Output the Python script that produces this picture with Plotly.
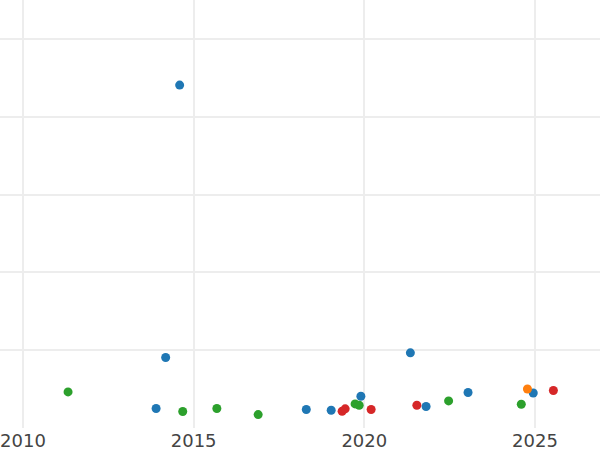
import plotly.graph_objects as go

# Data (x = year, y = value)
blue_x = [2013.90, 2014.18, 2014.59, 2018.30, 2019.03, 2019.90, 2021.35, 2021.81, 2023.04, 2024.95]
blue_y = [12.5, 45.3, 220.4, 11.9, 11.4, 20.4, 48.3, 13.8, 22.8, 22.5]

orange_x = [2024.78]
orange_y = [25.1]

green_x = [2011.32, 2014.68, 2015.68, 2016.89, 2019.73, 2019.85, 2022.47, 2024.60]
green_y = [23.2, 10.6, 12.5, 8.6, 15.5, 14.6, 17.4, 15.3]

red_x = [2019.35, 2019.44, 2020.20, 2021.54, 2025.54]
red_y = [10.8, 12.3, 11.9, 14.6, 24.1]

x_ticks = [2010, 2015, 2020, 2025]
x_tick_labels = ["2010", "2015", "2020", "2025"]

series = [
    ("Series A", blue_x, blue_y, "#1f77b4"),
    ("Series B", orange_x, orange_y, "#ff7f0e"),
    ("Series C", green_x, green_y, "#2ca02c"),
    ("Series D", red_x, red_y, "#d62728"),
]

fig = go.Figure()
for name, xs, ys, color in series:
    fig.add_trace(go.Scatter(
        x=xs, y=ys, mode="markers", name=name,
        marker=dict(color=color, size=9, line=dict(width=0)),
    ))

fig.update_layout(
    width=600, height=450,
    margin=dict(l=0, r=0, t=0, b=22),
    paper_bgcolor="white", plot_bgcolor="white",
    showlegend=False,
    font=dict(family="DejaVu Sans", color="#444444", size=18),
)
fig.update_xaxes(
    range=[2009.326, 2026.906],
    tickvals=x_ticks, ticktext=x_tick_labels,
    showgrid=True, gridcolor="#ededed", gridwidth=1.5,
    zeroline=False, showline=False, ticks="",
)
fig.update_yaxes(
    range=[0, 275.1], dtick=50,
    showgrid=True, gridcolor="#ededed", gridwidth=1.5,
    zeroline=False, showline=False, showticklabels=False, ticks="",
)

fig.write_html(
    "out.html",
    config={"displayModeBar": False},
    post_script="document.body.style.margin='0';document.body.style.overflow='hidden';",
)
